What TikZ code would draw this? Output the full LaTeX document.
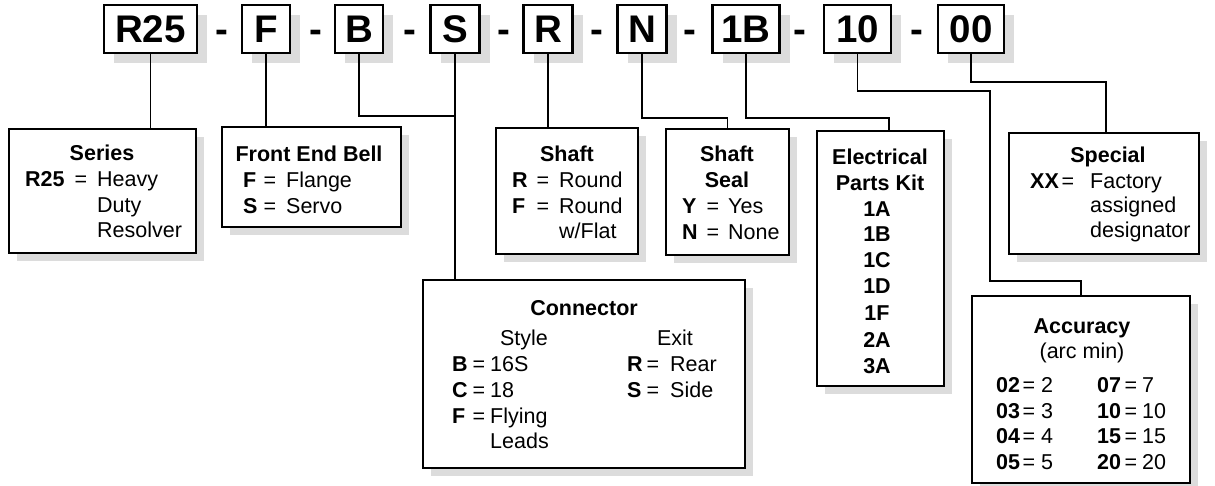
\documentclass[tikz,border=0pt]{standalone}
\usepackage{fontspec}
\setmainfont{Liberation Sans}
\usetikzlibrary{shadows}
\definecolor{shade}{HTML}{DCDCDC}
\newcommand\kvline[7]{%
  \node[txtb,anchor=base west] (#1k) at (#3,#2) {#4};
  \node[txt,anchor=base] (#1e) at (#5,#2) {=};
  \node[txt,anchor=base west] (#1v) at (#6,#2) {#7};}
\begin{document}
\begin{tikzpicture}[x=1pt,y=-1pt,
  topbox/.style={draw,line width=2.2pt,fill=white,minimum height=48pt,inner sep=0pt,
    font=\fontsize{38.5}{40}\selectfont\bfseries,
    drop shadow={shadow xshift=10pt,shadow yshift=-10pt,fill=shade,opacity=1}},
  infobox/.style={draw,line width=2.2pt,fill=white,inner sep=0pt,
    drop shadow={shadow xshift=8pt,shadow yshift=-8pt,fill=shade,opacity=1}},
  lead/.style={line width=1.8pt},
  txt/.style={inner sep=0pt,font=\fontsize{21.5}{26}\selectfont},
  txtb/.style={inner sep=0pt,font=\fontsize{21.5}{26}\selectfont\bfseries},
  dashmark/.style={inner sep=0pt,font=\fontsize{38.5}{40}\selectfont\bfseries,anchor=base}]
\useasboundingbox (0,0) rectangle (1215,486);
\fill[white] (0,0) rectangle (1215,486);

% code boxes
\node[topbox,minimum width=93pt] (tR25) at (150.5,29) {R25};
\node[topbox,minimum width=48pt] (tF) at (266,29) {F};
\node[topbox,minimum width=48pt] (tB) at (359,29) {B};
\node[topbox,minimum width=49pt] (tS) at (455,29) {S};
\node[topbox,minimum width=49pt] (tR) at (548,29) {R};
\node[topbox,minimum width=49pt] (tN) at (642,29) {N};
\node[topbox,minimum width=67pt] (t1B) at (746,29) {1B};
\node[topbox,minimum width=67pt] (t10) at (857.5,29) {10};
\node[topbox,minimum width=66pt] (t00) at (971,29) {00};
\node[dashmark] (d1) at (222,43) {-};
\node[dashmark] (d2) at (316,43) {-};
\node[dashmark] (d3) at (410,43) {-};
\node[dashmark] (d4) at (504,43) {-};
\node[dashmark] (d5) at (597,43) {-};
\node[dashmark] (d6) at (690,43) {-};
\node[dashmark] (d7) at (800,43) {-};
\node[dashmark] (d8) at (917,43) {-};

% description boxes
\node[infobox,minimum width=187pt,minimum height=124pt] (sSeries) at (102.5,191) {};
\node[infobox,minimum width=179pt,minimum height=100pt] (sBell) at (311.5,177) {};
\node[infobox,minimum width=142pt,minimum height=126pt] (sShaft) at (567,191) {};
\node[infobox,minimum width=123pt,minimum height=126pt] (sSeal) at (727.5,192) {};
\node[infobox,minimum width=127pt,minimum height=255pt] (sElec) at (880.5,258.5) {};
\node[infobox,minimum width=190pt,minimum height=121pt] (sSpecial) at (1104,193.5) {};
\node[infobox,minimum width=322pt,minimum height=188pt] (sConn) at (584,374) {};
\node[infobox,minimum width=218pt,minimum height=187pt] (sAcc) at (1081,389.5) {};

% connectors
\coordinate (jBS) at (455,116);
\coordinate (jN) at (727.5,118);
\coordinate (j1B) at (889,118);
\coordinate (j10a) at (990,91);
\coordinate (j10b) at (1081,281);
\coordinate (j00) at (1106,82);
\draw[lead] (tR25.south) -- (tR25.south |- sSeries.north);
\draw[lead] (tF.south) -- (tF.south |- sBell.north);
\draw[lead] (tB.south) |- (jBS);
\draw[lead] (tS.south) -- (tS.south |- sConn.north);
\draw[lead] (tR.south) -- (tR.south |- sShaft.north);
\draw[lead] (tN.south) |- (jN) -- (sSeal.north);
\draw[lead] (t1B.south) |- (j1B) -- (j1B |- sElec.north);
\draw[lead] (t10.south) |- (j10a) |- (j10b) -- (sAcc.north);
\draw[lead] (t00.south) |- (j00) -- (j00 |- sSpecial.north);

% Series
\node[txtb,anchor=base] (hSeries) at (102,161) {Series};
\kvline{ser}{187}{25}{R25}{81}{97}{Heavy}
\node[txt,anchor=base west] (serDuty) at (97,213) {Duty};
\node[txt,anchor=base west] (serRes) at (97,238) {Resolver};

% Front End Bell
\node[txtb,anchor=base] (hBell) at (309,162) {Front End Bell};
\kvline{belF}{188}{243}{F}{270}{286}{Flange}
\kvline{belS}{214}{243}{S}{270}{286}{Servo}

% Shaft
\node[txtb,anchor=base] (hShaft) at (567,162) {Shaft};
\kvline{shR}{188}{512}{R}{543}{559}{Round}
\kvline{shF}{214}{512}{F}{543}{559}{Round}
\node[txt,anchor=base west] (shFlat) at (559,239) {w/Flat};

% Shaft Seal
\node[txtb,anchor=base] (hSeal1) at (727,162) {Shaft};
\node[txtb,anchor=base] (hSeal2) at (727,188) {Seal};
\kvline{seY}{214}{682}{Y}{713}{728}{Yes}
\kvline{seN}{240}{682}{N}{713}{728}{None}

% Electrical Parts Kit
\node[txtb,anchor=base] (hElec1) at (880,165) {Electrical};
\node[txtb,anchor=base] (hElec2) at (880,191) {Parts Kit};
\node[txtb,anchor=base] (e1A) at (877,217) {1A};
\node[txtb,anchor=base] (e1B) at (877,242) {1B};
\node[txtb,anchor=base] (e1C) at (877,268) {1C};
\node[txtb,anchor=base] (e1D) at (877,294) {1D};
\node[txtb,anchor=base] (e1F) at (877,320) {1F};
\node[txtb,anchor=base] (e2A) at (877,347) {2A};
\node[txtb,anchor=base] (e3A) at (877,373) {3A};

% Special
\node[txtb,anchor=base] (hSpec) at (1108,163) {Special};
\kvline{spX}{189}{1030}{XX}{1068}{1090}{Factory}
\node[txt,anchor=base west] (spAss) at (1090,213) {assigned};
\node[txt,anchor=base west] (spDes) at (1090,238) {designator};

% Connector
\node[txtb,anchor=base] (hConn) at (584,315) {Connector};
\node[txt,anchor=base] (coStyle) at (524,345) {Style};
\node[txt,anchor=base] (coExit) at (675,345) {Exit};
\kvline{coB}{371}{452}{B}{479}{490}{16S}
\kvline{coC}{397}{452}{C}{479}{490}{18}
\kvline{coF}{423}{452}{F}{479}{490}{Flying}
\node[txt,anchor=base west] (coLeads) at (490,448) {Leads};
\kvline{coR}{371}{627}{R}{653}{670}{Rear}
\kvline{coS}{397}{627}{S}{653}{670}{Side}

% Accuracy
\node[txtb,anchor=base] (hAcc) at (1082,333) {Accuracy};
\node[txt,anchor=base] (acArc) at (1082,358) {(arc min)};
\kvline{a02}{392}{996}{02}{1029}{1041}{2}
\kvline{a03}{418}{996}{03}{1029}{1041}{3}
\kvline{a04}{443.5}{996}{04}{1029}{1041}{4}
\kvline{a05}{469}{996}{05}{1029}{1041}{5}
\kvline{a07}{392}{1097}{07}{1131}{1142}{7}
\kvline{a10}{418}{1097}{10}{1131}{1142}{10}
\kvline{a15}{443.5}{1097}{15}{1131}{1142}{15}
\kvline{a20}{469}{1097}{20}{1131}{1142}{20}
\end{tikzpicture}
\end{document}
